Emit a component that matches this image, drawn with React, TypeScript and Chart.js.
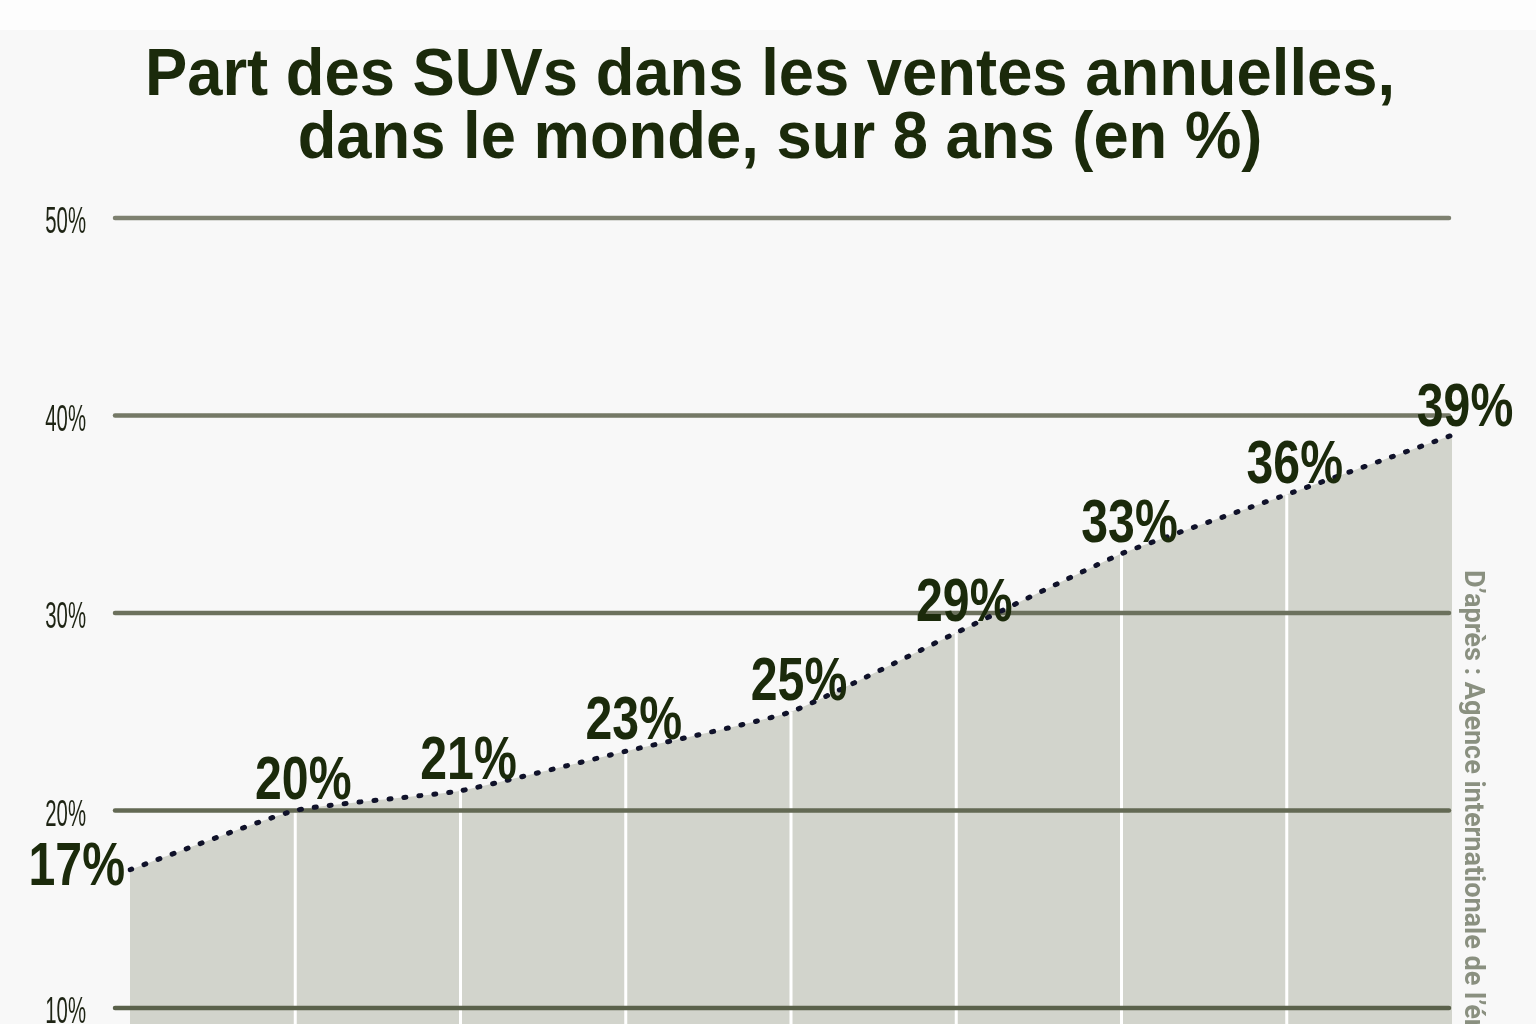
import React, { useEffect, useRef } from 'react';
import { Chart, registerables } from 'chart.js';

Chart.register(...registerables);

const years = ['2010', '2011', '2012', '2013', '2014', '2015', '2016', '2017', '2018'];
const suvShare = [17, 20, 21, 23, 25, 29, 33, 36, 39];
const yTicks = [10, 20, 30, 40, 50];
const titleLines = ['Part des SUVs dans les ventes annuelles,', 'dans le monde, sur 8 ans (en %)'];
const sourceText = 'D’après : Agence internationale de l’énergie';

const DARK = '#1b2a0b';

function scaledText(ctx: CanvasRenderingContext2D, text: string, x: number, y: number, sx: number, align: CanvasTextAlign) {
    ctx.save();
    ctx.translate(x, y);
    ctx.scale(sx, 1);
    ctx.textAlign = align;
    ctx.fillText(text, 0, 0);
    ctx.restore();
}

const decor = {
    id: 'decor',
    beforeDraw(chart: any) {
        const { ctx, width, height, scales } = chart;
        ctx.save();
        ctx.fillStyle = '#f8f8f8';
        ctx.fillRect(0, 0, width, height);
        ctx.fillStyle = '#fdfdfd';
        ctx.fillRect(0, 0, width, 30);

        // title
        ctx.fillStyle = DARK;
        ctx.font = 'bold 66px "Liberation Sans"';
        ctx.textBaseline = 'alphabetic';
        scaledText(ctx, titleLines[0], 770, 95, 0.96, 'center');
        scaledText(ctx, titleLines[1], 780, 158, 0.96, 'center');

        // y tick labels
        ctx.fillStyle = '#1e2414';
        ctx.font = '37px "Liberation Sans"';
        ctx.textBaseline = 'middle';
        yTicks.forEach((t) => {
            const y = scales.y.getPixelForValue(t);
            scaledText(ctx, t + '%', 86, y + 5, 0.55, 'right');
        });
        ctx.restore();
    },
    afterDatasetDraw(chart: any, args: any) {
        if (args.index !== 1) return;
        const { ctx, chartArea, scales } = chart;
        const pts = chart.getDatasetMeta(1).data;
        ctx.save();
        // white separators under the area
        ctx.strokeStyle = '#ffffff';
        ctx.lineWidth = 3;
        for (let i = 1; i < pts.length - 1; i++) {
            ctx.beginPath();
            ctx.moveTo(pts[i].x, pts[i].y);
            ctx.lineTo(pts[i].x, chartArea.bottom);
            ctx.stroke();
        }
        // horizontal grid
        const grad = ctx.createLinearGradient(0, chartArea.top, 0, scales.y.getPixelForValue(10));
        grad.addColorStop(0, '#7e8170');
        grad.addColorStop(1, '#5a614a');
        ctx.strokeStyle = grad;
        ctx.lineWidth = 4.5;
        ctx.lineCap = 'round';
        yTicks.forEach((t) => {
            const y = scales.y.getPixelForValue(t);
            ctx.beginPath();
            ctx.moveTo(chartArea.left - 15, y);
            ctx.lineTo(chartArea.right - 3, y);
            ctx.stroke();
        });
        ctx.restore();
    },
    afterDatasetsDraw(chart: any) {
        const { ctx } = chart;
        const pts = chart.getDatasetMeta(0).data;
        ctx.save();
        ctx.fillStyle = DARK;
        ctx.font = 'bold 61px "Liberation Sans"';
        pts.forEach((p: any, i: number) => {
            const label = suvShare[i] + '%';
            if (i === 0) {
                ctx.textBaseline = 'middle';
                scaledText(ctx, label, p.x - 5, p.y - 2, 0.79, 'right');
            } else if (i === pts.length - 1) {
                ctx.textBaseline = 'alphabetic';
                scaledText(ctx, label, p.x + 13, p.y - 9, 0.79, 'center');
            } else {
                ctx.textBaseline = 'alphabetic';
                scaledText(ctx, label, p.x + 8, p.y - 12, 0.79, 'center');
            }
        });

        // source, rotated
        ctx.fillStyle = '#8a9080';
        ctx.font = 'bold 27px Roboto';
        ctx.translate(1472, 570);
        ctx.rotate(Math.PI / 2);
        ctx.textAlign = 'left';
        ctx.textBaseline = 'middle';
        ctx.fillText(sourceText, 0, 0);
        ctx.restore();
    },
};

export default function App() {
    const canvasRef = useRef<HTMLCanvasElement>(null);
    const chartRef = useRef<Chart | null>(null);

    useEffect(() => {
        document.body.style.margin = '0';
        if (!canvasRef.current) return;
        if (chartRef.current) chartRef.current.destroy();

        chartRef.current = new Chart(canvasRef.current, {
            type: 'line',
            data: {
                labels: years,
                datasets: [
                    {
                        label: 'Part des SUVs',
                        data: suvShare,
                        borderColor: '#10122a',
                        borderWidth: 5,
                        borderDash: [2, 13],
                        borderCapStyle: 'round',
                        tension: 0.15,
                        pointRadius: 0,
                        fill: false,
                    },
                    {
                        label: 'area',
                        data: suvShare,
                        borderWidth: 0,
                        borderColor: 'rgba(0,0,0,0)',
                        backgroundColor: '#d2d4cc',
                        tension: 0.15,
                        pointRadius: 0,
                        fill: 'start',
                    },
                ],
            },
            options: {
                responsive: false,
                animation: false,
                devicePixelRatio: 1,
                layout: { padding: { left: 130, right: 84, top: 218, bottom: 0 } },
                plugins: {
                    legend: { display: false },
                    tooltip: { enabled: false },
                    title: { display: false },
                },
                scales: {
                    x: { display: false, offset: false },
                    y: { display: false, min: 9.19, max: 50 },
                },
            },
            plugins: [decor],
        });

        return () => {
            if (chartRef.current) {
                chartRef.current.destroy();
                chartRef.current = null;
            }
        };
    }, []);

    return <canvas ref={canvasRef} width={1536} height={1024} style={{ display: 'block' }} />;
}
